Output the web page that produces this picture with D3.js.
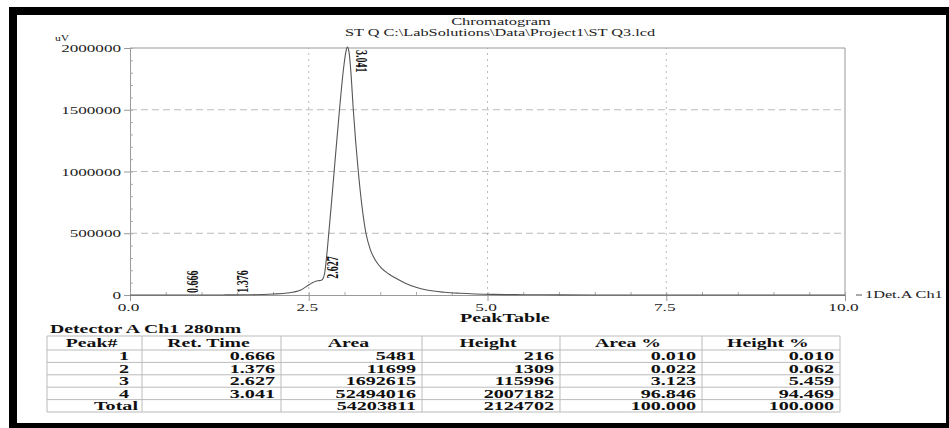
<!DOCTYPE html>
<html>
<head>
<meta charset="utf-8">
<script src="https://cdn.jsdelivr.net/npm/d3@7"></script>
<style>
  body { margin: 0; background: #fff; }
  svg { display: block; font-family: "Liberation Serif", "Times New Roman", serif; }
</style>
</head>
<body>
<div id="chart"></div>
<script>
// Chromatogram trace (retention time in min, signal in uV)
const timeMin = [0, 0.6, 0.666, 0.75, 1.3, 1.376, 1.45, 1.7, 2.0, 2.2, 2.38, 2.47, 2.55, 2.6, 2.627, 2.66, 2.69, 2.72,
  2.75, 2.78, 2.82, 2.855, 2.93, 2.99, 3.02, 3.041, 3.065, 3.09, 3.123, 3.193, 3.3, 3.36, 3.43, 3.52, 3.62, 3.72, 3.85,
  4.0, 4.15, 4.4, 4.615, 5.077, 5.5, 6.0, 7.0, 8.0, 10.0];
const signalUV = [0, 0, 216, 0, 0, 1309, 800, 2000, 8000, 16000, 38000, 70000, 100000, 112000, 116000, 117000, 125000, 170000,
  310000, 500000, 760000, 1000000, 1500000, 1850000, 1970000, 2007182, 1960000, 1800000, 1500000, 1000000, 500000, 370000, 283000, 215000, 170000, 135000, 95000,
  62000, 40000, 22000, 14000, 5000, 2500, 1000, 300, 0, 0];

// Axis ticks
const xTicks = [0, 2.5, 5, 7.5, 10];
const yTicks = [0, 500000, 1000000, 1500000, 2000000];

// Peak table
const peakNums = ["1", "2", "3", "4"];
const retTimes = ["0.666", "1.376", "2.627", "3.041"];
const areas = ["5481", "11699", "1692615", "52494016"];
const heights = ["216", "1309", "115996", "2007182"];
const areaPct = ["0.010", "0.022", "3.123", "96.846"];
const heightPct = ["0.010", "0.062", "5.459", "94.469"];
const totals = ["Total", "", "54203811", "2124702", "100.000", "100.000"];
const headers = ["Peak#", "Ret. Time", "Area", "Height", "Area %", "Height %"];

const W = 949, H = 428;
const svg = d3.select("#chart").append("svg").attr("width", W).attr("height", H);

// stretched text helper (the scan is wide, so glyphs are stretched sideways)
function stext(sel, x, y, str, o) {
  return sel.append("text")
    .attr("transform", `translate(${x},${y}) scale(${o.sx || 1},1)`)
    .attr("text-anchor", o.anchor || "start")
    .style("font-size", o.size + "px")
    .style("font-weight", o.weight || "normal")
    .attr("fill", o.fill || "#111")
    .text(str);
}

// black scan frame
svg.append("rect").attr("x", 9).attr("y", 7).attr("width", W - 9).attr("height", 8).attr("fill", "#000");
svg.append("rect").attr("x", 9).attr("y", 7).attr("width", 8).attr("height", H - 7).attr("fill", "#000");
svg.append("rect").attr("x", 9).attr("y", 423).attr("width", W - 9).attr("height", 5).attr("fill", "#000");
svg.append("rect").attr("x", 946).attr("y", 7).attr("width", 3).attr("height", H - 7).attr("fill", "#000");

// titles
stext(svg, 501, 25, "Chromatogram", { size: 10.5, sx: 1.57, anchor: "middle", fill: "#222" });
stext(svg, 500, 36, "ST Q C:\\LabSolutions\\Data\\Project1\\ST Q3.lcd", { size: 10.5, sx: 1.55, anchor: "middle", fill: "#222" });

const x = d3.scaleLinear().domain([0, 10]).range([130, 845]);
const y = d3.scaleLinear().domain([0, 2000000]).range([295, 48]);

// grid
const grid = svg.append("g").attr("stroke", "#aaa").attr("stroke-width", 0.8);
grid.selectAll(".hg").data(yTicks.slice(1, -1)).join("line")
  .attr("x1", x(0)).attr("x2", x(10)).attr("y1", d => y(d)).attr("y2", d => y(d))
  .attr("stroke-dasharray", "7,4");
grid.selectAll(".vg").data(xTicks.slice(1, -1)).join("line")
  .attr("x1", d => x(d)).attr("x2", d => x(d)).attr("y1", y(0)).attr("y2", y(2000000))
  .attr("stroke-dasharray", "2,4");

// frame top / right
svg.append("line").attr("x1", x(0)).attr("x2", x(10)).attr("y1", y(2000000)).attr("y2", y(2000000)).attr("stroke", "#999");
svg.append("line").attr("x1", x(10)).attr("x2", x(10)).attr("y1", y(2000000)).attr("y2", y(0)).attr("stroke", "#999");

// y axis
const yAxis = svg.append("g").attr("transform", `translate(${x(0)},0)`)
  .call(d3.axisLeft(y).tickValues(yTicks).tickSize(6).tickFormat(d3.format("d")))
  .attr("font-family", null).attr("font-size", null);
yAxis.select(".domain").attr("stroke", "#999");
yAxis.selectAll(".tick line").attr("stroke", "#999");
yAxis.selectAll(".tick text")
  .attr("x", null).attr("dy", null)
  .attr("transform", "translate(-9,3.5) scale(1.63,1)")
  .style("font-size", "10.5px").attr("fill", "#222");
svg.append("g").attr("transform", `translate(${x(0)},0)`)
  .call(d3.axisRight(y).tickValues(d3.range(0, 2000001, 100000)).tickSize(3).tickFormat(""))
  .call(g => g.select(".domain").remove())
  .selectAll("line").attr("stroke", "#aaa");
stext(svg, 55, 41, "uV", { size: 9, sx: 1.3, fill: "#222" });

// x axis
const xAxis = svg.append("g").attr("transform", `translate(0,${y(0)})`)
  .call(d3.axisBottom(x).tickValues(xTicks).tickSize(6).tickFormat(d3.format(".1f")))
  .attr("font-family", null).attr("font-size", null);
xAxis.select(".domain").attr("stroke", "#999");
xAxis.selectAll(".tick line").attr("stroke", "#999");
xAxis.selectAll(".tick text")
  .attr("y", null).attr("dy", null)
  .attr("transform", "translate(-2,16) scale(1.65,1)")
  .style("font-size", "10.5px").attr("fill", "#222");
svg.append("g").attr("transform", `translate(0,${y(0)})`)
  .call(d3.axisTop(x).tickValues(d3.range(0, 10.01, 0.5)).tickSize(3).tickFormat(""))
  .call(g => g.select(".domain").remove())
  .selectAll("line").attr("stroke", "#aaa");

// trace
const trace = timeMin.map((t, i) => [t, signalUV[i]]);
svg.append("path").datum(trace)
  .attr("fill", "none").attr("stroke", "#555").attr("stroke-width", 1.1)
  .attr("d", d3.line().x(d => x(d[0])).y(d => y(d[1])).curve(d3.curveMonotoneX));

// peak labels
retTimes.forEach((rt, i) => {
  const px = x(+rt), py = y(+heights[i]);
  const lbl = svg.append("text")
    .style("font-size", "10px").style("font-weight", "bold").attr("fill", "#111").text(rt);
  if (py - 24 < y(2000000)) {
    lbl.attr("transform", `translate(${px + 9},${py + 3}) rotate(90) scale(1,1.75)`);
  } else {
    lbl.attr("transform", `translate(${px + 20},${py - 2}) rotate(-90) scale(1,1.75)`);
  }
});

// legend label at right
svg.append("line").attr("x1", 856).attr("x2", 862).attr("y1", y(0)).attr("y2", y(0)).attr("stroke", "#555");
stext(svg, 865, 298, "1Det.A Ch1", { size: 10.5, sx: 1.55, fill: "#222" });

// Peak table
stext(svg, 460, 322, "PeakTable", { size: 11.5, sx: 1.75, weight: "bold" });
stext(svg, 50, 333, "Detector A Ch1 280nm", { size: 11.5, sx: 1.72, weight: "bold" });

const colX = [47, 142, 281, 422, 560, 702, 840];
const rowY = [336, 350, 362.4, 374.8, 387.2, 399.6, 412];
const tbl = svg.append("g");
tbl.selectAll(".rl").data(rowY).join("line")
  .attr("x1", colX[0]).attr("x2", colX[colX.length - 1]).attr("y1", d => d).attr("y2", d => d)
  .attr("stroke", "#bbb");
tbl.selectAll(".cl").data(colX).join("line")
  .attr("x1", d => d).attr("x2", d => d).attr("y1", rowY[0]).attr("y2", rowY[rowY.length - 1])
  .attr("stroke", "#bbb");

headers.forEach((h, c) => {
  stext(tbl, (colX[c] + colX[c + 1]) / 2 - 3, 347, h, { size: 11.5, sx: 1.72, weight: "bold", anchor: "middle" });
});
const rows = peakNums.map((p, i) => [p, retTimes[i], areas[i], heights[i], areaPct[i], heightPct[i]]);
rows.push(totals);
rows.forEach((r, ri) => {
  r.forEach((v, c) => {
    if (!v) return;
    let pad = c === 0 ? (ri === rows.length - 1 ? 4 : 13) : 6;
    stext(tbl, colX[c + 1] - pad, rowY[ri + 2] - 2, v, { size: 11.5, sx: 1.75, weight: "bold", anchor: "end" });
  });
});
</script>
</body>
</html>
